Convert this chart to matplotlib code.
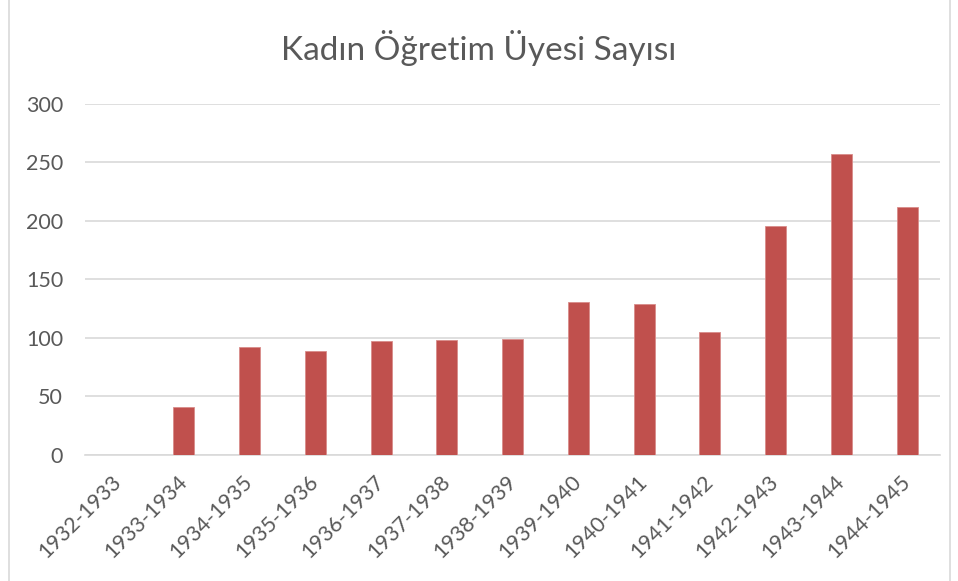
# Kadın Öğretim Üyesi Sayısı - bar chart

import matplotlib.pyplot as plt
from matplotlib.patches import Rectangle

# Data
years = ["1932-1933", "1933-1934", "1934-1935", "1935-1936", "1936-1937",
         "1937-1938", "1938-1939", "1939-1940", "1940-1941", "1941-1942",
         "1942-1943", "1943-1944", "1944-1945"]
counts = [0, 41, 92, 89, 97, 98, 99, 131, 129, 105, 196, 257, 212]
yticks = [0, 50, 100, 150, 200, 250, 300]

text_color = "#595959"
grid_color = "#d9d9d9"
bar_color = "#c0504d"

plt.rcParams['font.family'] = ['Lato', 'DejaVu Sans']

fig = plt.figure(figsize=(9.58, 5.81), dpi=100)
ax = fig.add_axes([0.0891, 0.2169, 0.8921, 0.6041])

x = list(range(len(years)))
ax.bar(x, counts, width=0.32, color=bar_color, edgecolor="#d98c8a", linewidth=0.6, zorder=3)

ax.set_xlim(-0.5, len(years) - 0.5)
ax.set_ylim(0, 300)
ax.set_yticks(yticks)
ax.set_xticks(x)
ax.set_xticklabels(years, rotation=45, ha="right", va="center", rotation_mode="anchor")

ax.tick_params(axis="both", length=0, labelsize=15.5, labelcolor=text_color)
ax.tick_params(axis="x", pad=17)
ax.tick_params(axis="y", pad=16)

ax.grid(axis="y", color=grid_color, linewidth=1.2, zorder=0)
for side in ["top", "right", "left"]:
    ax.spines[side].set_visible(False)
ax.spines["bottom"].set_color(grid_color)
ax.spines["bottom"].set_linewidth(1.2)

fig.text(0.5, 0.917, "Kadın Öğretim Üyesi Sayısı", ha="center", va="center",
         fontsize=24, color=text_color)

# light chart border
fig.patches.append(Rectangle((0.009, -0.01), 0.983, 1.02, transform=fig.transFigure,
                             fill=False, edgecolor="#d9d9d9", linewidth=1.2))

plt.savefig("out.png", dpi=100)
